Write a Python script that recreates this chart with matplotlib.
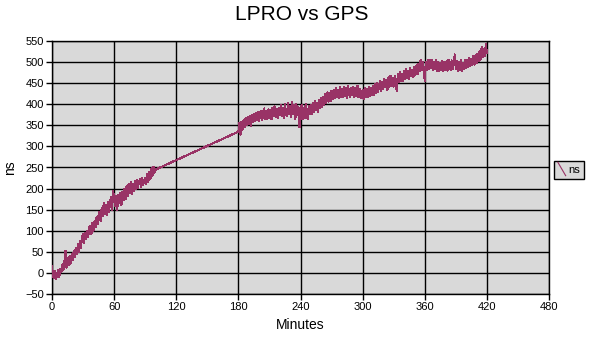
import matplotlib
matplotlib.use('Agg')
import matplotlib.pyplot as plt
from matplotlib.legend_handler import HandlerLine2D
from matplotlib.lines import Line2D

plt.rcParams['font.family'] = ['Liberation Sans', 'DejaVu Sans']

# first stretch of samples, one per minute (0..100)
min_a = list(range(0, 101))
ns_a = [15, -8, -12, 5, -14, -2, 6, -10, 10, 2,
        20, 8, 25, 52, 12, 35, 18, 40, 22, 45,
        30, 52, 38, 60, 45, 68, 50, 75, 60, 85,
        92, 72, 95, 80, 100, 86, 108, 112, 92, 118,
        100, 122, 108, 132, 115, 138, 145, 122, 155, 135,
        165, 140, 162, 138, 168, 145, 165, 180, 150, 195,
        175, 158, 182, 150, 185, 165, 190, 160, 192, 172,
        200, 175, 205, 182, 212, 190, 215, 188, 212, 195,
        218, 198, 220, 202, 216, 222, 204, 225, 208, 220,
        226, 210, 235, 215, 240, 222, 248, 230, 252, 238,
        245]

# second stretch, one per minute (180..420)
min_b = list(range(180, 421))
ns_b = [335, 355, 328, 358, 340, 362, 345, 368, 350, 370,
        352, 372, 348, 375, 358, 378, 360, 380, 362, 382,
        360, 380, 385, 362, 382, 390, 366, 384, 364, 388,
        368, 386, 365, 392, 372, 395, 370, 388, 368, 392,
        374, 398, 372, 392, 368, 400, 376, 372, 404, 378,
        395, 370, 405, 378, 398, 365, 400, 374, 394, 345,
        372, 398, 364, 392, 368, 400, 374, 366, 396, 376,
        398, 378, 404, 382, 408, 386, 402, 382, 410, 392,
        416, 394, 418, 398, 424, 404, 428, 406, 426, 408,
        432, 412, 434, 414, 438, 416, 434, 414, 440, 418,
        436, 416, 442, 420, 438, 414, 444, 422, 418, 438,
        422, 442, 418, 438, 420, 444, 416, 436, 420, 414,
        434, 412, 438, 418, 436, 416, 442, 420, 438, 422,
        444, 422, 448, 426, 450, 430, 446, 456, 432, 452,
        436, 460, 440, 458, 434, 464, 442, 468, 444, 462,
        442, 468, 450, 432, 472, 452, 476, 454, 472, 456,
        478, 460, 484, 462, 480, 460, 486, 466, 482, 464,
        488, 470, 492, 472, 496, 478, 506, 482, 500, 484,
        455, 500, 482, 504, 484, 506, 486, 504, 482, 500,
        484, 504, 480, 500, 478, 498, 482, 502, 479, 500,
        482, 502, 480, 506, 486, 482, 504, 484, 500, 518,
        484, 502, 480, 500, 482, 506, 479, 498, 484, 504,
        486, 506, 488, 510, 490, 508, 492, 514, 494, 516,
        498, 520, 502, 526, 506, 536, 512, 532, 514, 542,
        522]

x_ticks = list(range(0, 481, 60))
y_ticks = list(range(-50, 551, 50))

minutes = min_a + min_b
values = ns_a + ns_b


class DiagonalHandler(HandlerLine2D):
    # excel-style legend key: a short diagonal stroke
    def create_artists(self, legend, orig_handle, xdescent, ydescent,
                       width, height, fontsize, trans):
        ln = Line2D([0, width], [height + 2, -2],
                    color=orig_handle.get_color(), lw=orig_handle.get_linewidth())
        ln.set_transform(trans)
        return [ln]


fig = plt.figure(figsize=(5.91, 3.45), dpi=100, facecolor='white')
ax = fig.add_axes([52/591, 1 - 294/345, 497/591, 253/345])
ax.set_facecolor('#d9d9d9')

line, = ax.plot(minutes, values, color='#993366', lw=0.8, label='ns',
                antialiased=False, zorder=3)

ax.set_xlim(0, 480)
ax.set_ylim(-50, 550)
ax.set_xticks(x_ticks)
ax.set_yticks(y_ticks)
ax.grid(True, color='black', lw=1.0)
ax.set_axisbelow(True)
for s in ax.spines.values():
    s.set_color('black')
    s.set_linewidth(1.0)
ax.tick_params(direction='out', length=4, width=1, labelsize=8, colors='black', pad=2)

fig.text(302/591, 1 - 14/345, 'LPRO vs GPS', ha='center', va='center', fontsize=15)
ax.set_xlabel('Minutes', fontsize=10, labelpad=4)
ax.set_ylabel('ns', fontsize=10, labelpad=6)

leg = fig.legend(handles=[line], loc='upper left', bbox_to_anchor=(554/591, 1 - 161/345),
                 fontsize=8, handlelength=0.7, handletextpad=0.25, borderpad=0.35,
                 borderaxespad=0, fancybox=False, handler_map={Line2D: DiagonalHandler()})
leg.get_frame().set_edgecolor('black')
leg.get_frame().set_facecolor('#d9d9d9')
leg.get_frame().set_linewidth(1.0)
leg.get_frame().set_alpha(1)

fig.savefig('out.png', dpi=100)
